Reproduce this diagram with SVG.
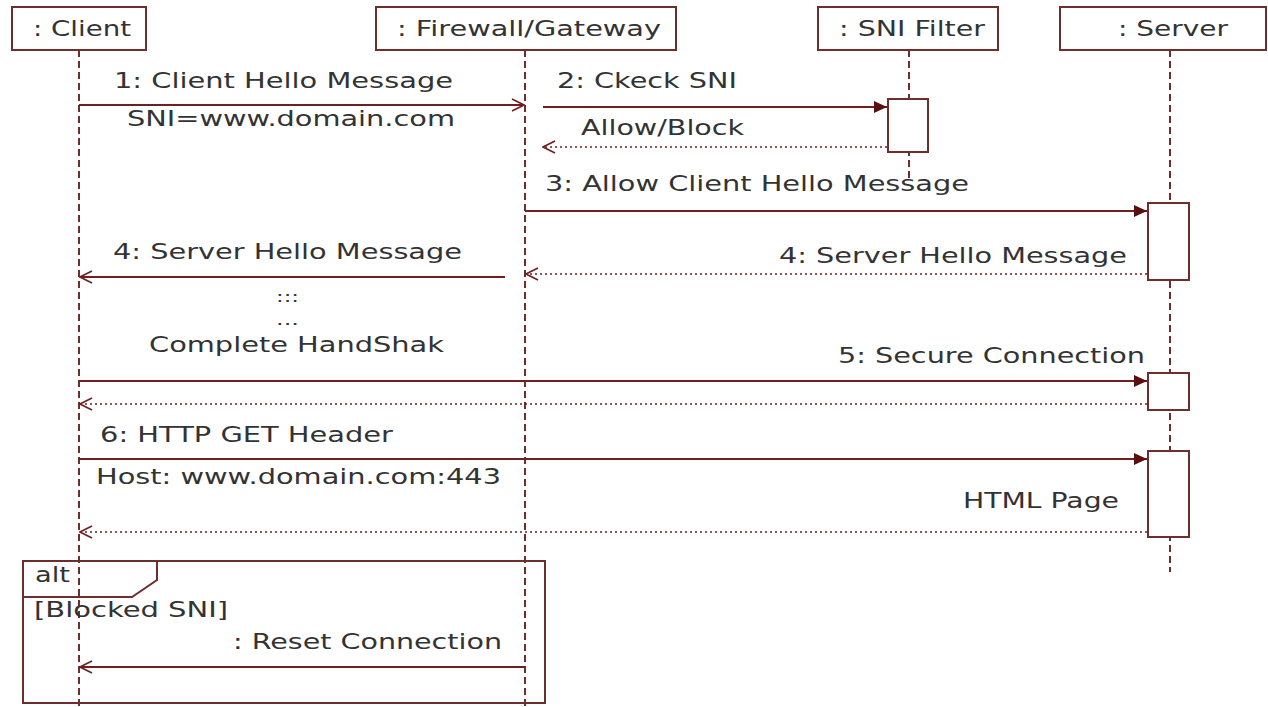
<svg xmlns="http://www.w3.org/2000/svg" width="1268" height="707" viewBox="0 0 1268 707">
<style>
.box{fill:#fff;stroke:#6e2e2e;stroke-width:2}
.life{stroke:#6e2e2e;stroke-width:2;stroke-dasharray:7 4;fill:none}
.msg{stroke:#6e2020;stroke-width:2;fill:none}
.ret{stroke:#6e2020;stroke-width:1.6;stroke-dasharray:2 3;fill:none}
.t{font-family:"DejaVu Sans","Liberation Sans",sans-serif;font-size:22px;fill:#333}
.s{font-family:"DejaVu Sans","Liberation Sans",sans-serif;font-size:16px;fill:#333}
</style>
<defs>
<marker id="fill" markerWidth="14" markerHeight="12" refX="13" refY="6" orient="auto" markerUnits="userSpaceOnUse">
<path d="M0,0 L13,6 L0,12 Z" fill="#5a1010"/>
</marker>
<marker id="openEnd" markerWidth="14" markerHeight="14" refX="13" refY="7" orient="auto" markerUnits="userSpaceOnUse">
<path d="M1,1 L13,7 L1,13" fill="none" stroke="#6e2020" stroke-width="1.6"/>
</marker>
</defs>
<rect width="1268" height="707" fill="#fff"/>

<g id="lifelines">
<line class="life" x1="79" y1="50" x2="79" y2="707"/>
<line class="life" x1="525" y1="50" x2="525" y2="707"/>
<line class="life" x1="909" y1="50" x2="909" y2="178"/>
<line class="life" x1="1170" y1="50" x2="1170" y2="572"/>
</g>

<g id="client"><rect class="box" x="12" y="7" width="134" height="43"/><text class="t" x="33" y="36" textLength="98" lengthAdjust="spacingAndGlyphs">: Client</text></g>
<g id="firewall"><rect class="box" x="376" y="7" width="300" height="43"/><text class="t" x="397" y="36" textLength="264" lengthAdjust="spacingAndGlyphs">: Firewall/Gateway</text></g>
<g id="snifilter"><rect class="box" x="818" y="7" width="180" height="43"/><text class="t" x="839" y="36" textLength="146" lengthAdjust="spacingAndGlyphs">: SNI Filter</text></g>
<g id="server"><rect class="box" x="1060" y="7" width="206" height="43"/><text class="t" x="1118" y="36" textLength="110" lengthAdjust="spacingAndGlyphs">: Server</text></g>

<g id="activations">
<rect class="box" x="888" y="99" width="40" height="53"/>
<rect class="box" x="1148" y="203" width="41" height="77"/>
<rect class="box" x="1148" y="373" width="41" height="37"/>
<rect class="box" x="1148" y="451" width="41" height="86"/>
</g>

<g id="connectors">
<line class="msg" x1="79" y1="105" x2="524" y2="105" marker-end="url(#openEnd)"/>
<line class="msg" x1="543" y1="107" x2="887" y2="107" marker-end="url(#fill)"/>
<line class="ret" x1="887" y1="147" x2="543" y2="147" marker-end="url(#openEnd)"/>
<line class="msg" x1="525" y1="211" x2="1147" y2="211" marker-end="url(#fill)"/>
<line class="ret" x1="1147" y1="274" x2="526" y2="274" marker-end="url(#openEnd)"/>
<line class="msg" x1="505" y1="277" x2="80" y2="277" marker-end="url(#openEnd)"/>
<line class="msg" x1="79" y1="381" x2="1147" y2="381" marker-end="url(#fill)"/>
<line class="ret" x1="1147" y1="404" x2="80" y2="404" marker-end="url(#openEnd)"/>
<line class="msg" x1="79" y1="459" x2="1147" y2="459" marker-end="url(#fill)"/>
<line class="ret" x1="1147" y1="532" x2="80" y2="532" marker-end="url(#openEnd)"/>
<line class="msg" x1="525" y1="667" x2="80" y2="667" marker-end="url(#openEnd)"/>
</g>

<g id="labels">
<text class="t" x="114" y="88" textLength="339" lengthAdjust="spacingAndGlyphs">1: Client Hello Message</text>
<text class="t" x="127" y="126" textLength="328" lengthAdjust="spacingAndGlyphs">SNI=www.domain.com</text>
<text class="t" x="557" y="88" textLength="180" lengthAdjust="spacingAndGlyphs">2: Ckeck SNI</text>
<text class="t" x="581" y="135" textLength="163" lengthAdjust="spacingAndGlyphs">Allow/Block</text>
<text class="t" x="545" y="191" textLength="424" lengthAdjust="spacingAndGlyphs">3: Allow Client Hello Message</text>
<text class="t" x="779" y="263" textLength="348" lengthAdjust="spacingAndGlyphs">4: Server Hello Message</text>
<text class="t" x="113" y="259" textLength="349" lengthAdjust="spacingAndGlyphs">4: Server Hello Message</text>
<text class="s" x="276" y="302" textLength="23" lengthAdjust="spacingAndGlyphs">:::</text>
<text class="s" x="276" y="325" textLength="23" lengthAdjust="spacingAndGlyphs">...</text>
<text class="t" x="149" y="352" textLength="295" lengthAdjust="spacingAndGlyphs">Complete HandShak</text>
<text class="t" x="838" y="363" textLength="307" lengthAdjust="spacingAndGlyphs">5: Secure Connection</text>
<text class="t" x="100" y="442" textLength="293" lengthAdjust="spacingAndGlyphs">6: HTTP GET Header</text>
<text class="t" x="96" y="484" textLength="405" lengthAdjust="spacingAndGlyphs">Host: www.domain.com:443</text>
<text class="t" x="963" y="508" textLength="156" lengthAdjust="spacingAndGlyphs">HTML Page</text>
</g>

<g id="alt">
<rect x="23" y="561" width="522" height="142" fill="none" stroke="#6e2e2e" stroke-width="2"/>
<path d="M23,561 L157,561 L157,580 L132,597 L23,597" fill="none" stroke="#6e2e2e" stroke-width="2"/>
<text class="t" x="35" y="582" textLength="35" lengthAdjust="spacingAndGlyphs">alt</text>
<text class="t" x="34" y="617" textLength="194" lengthAdjust="spacingAndGlyphs">[Blocked SNI]</text>
<text class="t" x="233" y="649" textLength="269" lengthAdjust="spacingAndGlyphs">: Reset Connection</text>
</g>
</svg>
